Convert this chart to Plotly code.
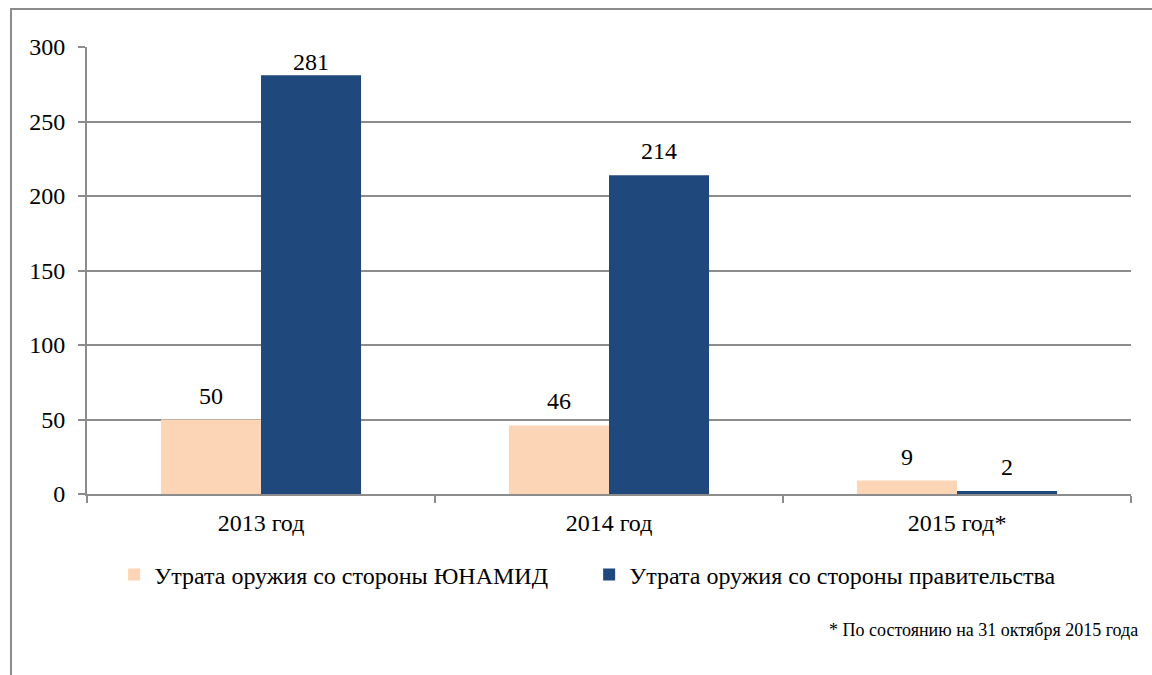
import plotly.graph_objects as go

# Weapon losses by year
years = ["2013 год", "2014 год", "2015 год*"]
unamid_losses = [50, 46, 9]
gov_losses = [281, 214, 2]
series_names = ["Утрата оружия со стороны ЮНАМИД", "Утрата оружия со стороны правительства"]
y_ticks = [0, 50, 100, 150, 200, 250, 300]
footnote = "* По состоянию на 31 октября 2015 года"

FONT = "'Liberation Serif', 'Times New Roman', serif"
GRID = "#8c8c8c"
Y_MAX = 300
PLOT_TOP, PLOT_H = 47, 447

fig = go.Figure()
fig.add_trace(go.Bar(
    x=years, y=unamid_losses, name=series_names[0],
    marker=dict(color="#FBD5B5", line=dict(width=0)),
))
fig.add_trace(go.Bar(
    x=years, y=gov_losses, name=series_names[1],
    marker=dict(color="#1F497D", line=dict(width=0)),
))

# value labels above each bar, kept inside the plot's top edge
annotations = []
for values, xshift in ((unamid_losses, -50), (gov_losses, 50)):
    for cat, v in zip(years, values):
        top_px = PLOT_TOP + (Y_MAX - v) * PLOT_H / Y_MAX
        label_px = max(top_px - 24, PLOT_TOP + 15)
        annotations.append(dict(
            x=cat, y=v, xref="x", yref="y", text=str(v), showarrow=False,
            xshift=xshift, yshift=top_px - label_px, yanchor="middle",
            font=dict(family=FONT, size=24, color="black"),
        ))

annotations.append(dict(
    text=footnote, xref="paper", yref="paper", x=1.0086, y=-0.304,
    xanchor="right", yanchor="middle", showarrow=False,
    font=dict(family=FONT, size=18, color="black"),
))

fig.update_layout(
    width=1152, height=675,
    margin=dict(l=87, r=21, t=47, b=181),
    paper_bgcolor="white", plot_bgcolor="white",
    barmode="group", bargap=0.425, bargroupgap=0,
    font=dict(family=FONT, size=24, color="black"),
    showlegend=True,
    legend=dict(
        orientation="h", x=0.026, y=-0.181, xanchor="left", yanchor="middle",
        entrywidth=430, entrywidthmode="pixels",
        font=dict(family=FONT, size=24, color="black"),
        traceorder="normal", bgcolor="rgba(0,0,0,0)",
    ),
    xaxis=dict(
        type="category", showgrid=False, showline=True, linecolor=GRID, linewidth=2,
        ticks="outside", tickson="boundaries", ticklen=7, tickcolor=GRID, tickwidth=2,
        ticklabelstandoff=6,
        tickfont=dict(family=FONT, size=24, color="black"),
    ),
    yaxis=dict(
        range=[0, Y_MAX], tickvals=y_ticks, showgrid=True, gridcolor=GRID, gridwidth=2,
        showline=True, linecolor=GRID, linewidth=2, zeroline=False,
        ticks="outside", ticklen=7, tickcolor=GRID, tickwidth=2,
        ticklabelstandoff=8,
        tickfont=dict(family=FONT, size=24, color="black"),
    ),
    annotations=annotations,
    shapes=[dict(
        type="rect", xref="paper", yref="paper",
        x0=-0.0728, x1=1.2, y0=-0.6, y1=1.085,
        line=dict(color="#8c8c8c", width=2), fillcolor="rgba(0,0,0,0)", layer="below",
    )],
)

fig.write_html("out.html")
